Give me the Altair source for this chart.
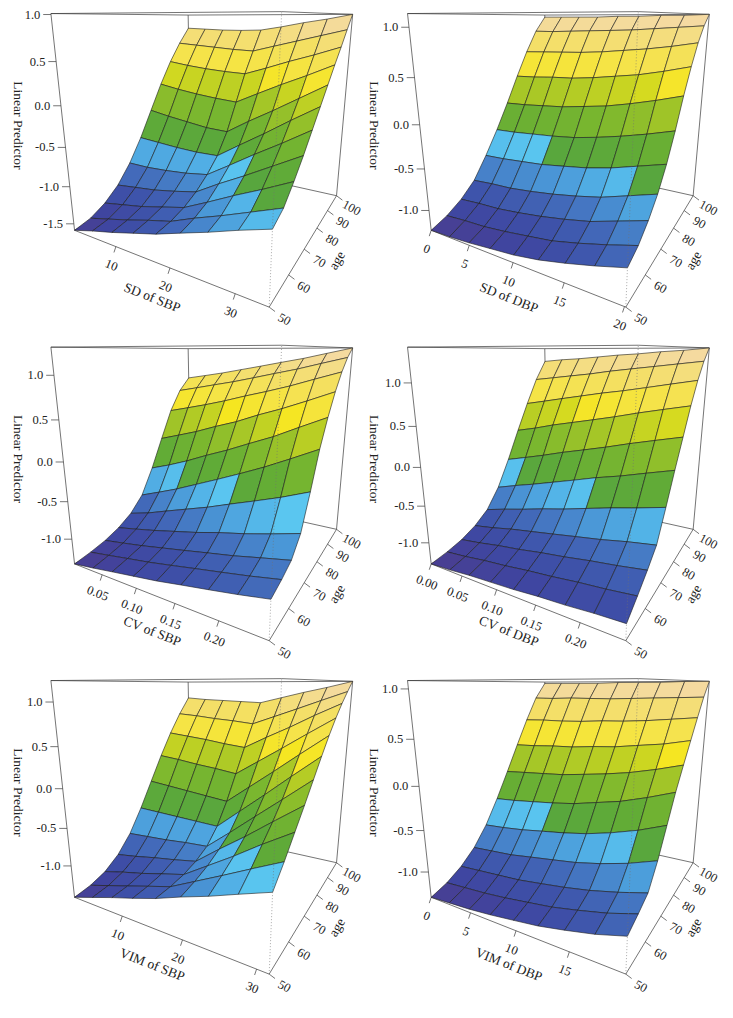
import math
import altair as alt
import pandas as pd

# ------------------------------------------------------------------ data
AGE = [50, 55, 60, 65, 70, 75, 80, 85, 90, 95, 100]
AGE_TICKS = [50, 60, 70, 80, 90, 100]
Z_TICKS_A = [-1.5, -1.0, -0.5, 0.0, 0.5, 1.0]
Z_TICKS_B = [-1.0, -0.5, 0.0, 0.5, 1.0]

sd_sbp_x = [1.0, 5.2, 9.4, 13.6, 17.8, 21.9, 26.1, 30.3, 34.5]
sd_sbp_z = [
    [-1.59, -1.50, -1.42, -1.33, -1.24, -1.13, -1.02, -0.90, -0.79],
    [-1.55, -1.47, -1.39, -1.30, -1.22, -1.09, -0.97, -0.84, -0.71],
    [-1.45, -1.39, -1.33, -1.25, -1.17, -1.02, -0.86, -0.71, -0.55],
    [-1.29, -1.25, -1.21, -1.15, -1.08, -0.90, -0.73, -0.55, -0.37],
    [-1.05, -1.05, -1.03, -1.00, -0.95, -0.76, -0.56, -0.37, -0.17],
    [-0.74, -0.76, -0.78, -0.79, -0.78, -0.58, -0.38, -0.17, 0.03],
    [-0.38, -0.43, -0.47, -0.51, -0.52, -0.33, -0.15, 0.04, 0.23],
    [-0.02, -0.07, -0.11, -0.14, -0.16, -0.01, 0.14, 0.28, 0.43],
    [0.30, 0.26, 0.23, 0.21, 0.20, 0.30, 0.41, 0.51, 0.62],
    [0.57, 0.55, 0.53, 0.51, 0.50, 0.58, 0.66, 0.74, 0.82],
    [0.80, 0.79, 0.78, 0.78, 0.79, 0.84, 0.90, 0.95, 1.01],
]

sd_dbp_x = [0.0, 2.5, 5.0, 7.5, 10.1, 12.6, 15.1, 17.6, 20.1]
sd_dbp_z = [
    [-1.25, -1.24, -1.22, -1.19, -1.16, -1.11, -1.04, -0.96, -0.87],
    [-1.18, -1.16, -1.15, -1.12, -1.08, -1.04, -0.97, -0.89, -0.80],
    [-1.07, -1.05, -1.04, -1.01, -0.97, -0.92, -0.86, -0.77, -0.68],
    [-0.91, -0.89, -0.88, -0.85, -0.81, -0.76, -0.70, -0.61, -0.52],
    [-0.65, -0.64, -0.62, -0.60, -0.56, -0.52, -0.46, -0.38, -0.30],
    [-0.36, -0.35, -0.33, -0.31, -0.28, -0.23, -0.17, -0.10, -0.02],
    [-0.04, -0.03, -0.01, 0.01, 0.05, 0.09, 0.15, 0.22, 0.30],
    [0.30, 0.31, 0.33, 0.34, 0.37, 0.41, 0.45, 0.51, 0.58],
    [0.62, 0.63, 0.64, 0.65, 0.67, 0.70, 0.73, 0.77, 0.82],
    [0.90, 0.90, 0.91, 0.92, 0.93, 0.94, 0.96, 0.98, 1.00],
    [1.10, 1.10, 1.10, 1.10, 1.11, 1.11, 1.12, 1.12, 1.13],
]

cv_sbp_x = [0.005, 0.036, 0.066, 0.097, 0.128, 0.158, 0.189, 0.219, 0.25]
cv_sbp_z = [
    [-1.345, -1.30, -1.25, -1.20, -1.15, -1.09, -1.03, -0.97, -0.90],
    [-1.31, -1.26, -1.21, -1.16, -1.10, -1.04, -0.98, -0.92, -0.85],
    [-1.26, -1.21, -1.16, -1.10, -1.04, -0.98, -0.92, -0.85, -0.78],
    [-1.18, -1.12, -1.06, -0.99, -0.92, -0.84, -0.77, -0.69, -0.60],
    [-1.06, -0.98, -0.88, -0.78, -0.68, -0.57, -0.46, -0.35, -0.22],
    [-0.86, -0.75, -0.64, -0.51, -0.38, -0.25, -0.11, 0.04, 0.20],
    [-0.50, -0.40, -0.29, -0.16, -0.04, 0.09, 0.22, 0.37, 0.52],
    [-0.08, 0.01, 0.10, 0.21, 0.31, 0.43, 0.54, 0.66, 0.79],
    [0.33, 0.40, 0.47, 0.55, 0.64, 0.72, 0.81, 0.91, 1.01],
    [0.63, 0.69, 0.75, 0.81, 0.88, 0.95, 1.02, 1.10, 1.18],
    [0.82, 0.87, 0.92, 0.98, 1.04, 1.10, 1.16, 1.23, 1.30],
]

cv_dbp_x = [0.0, 0.031, 0.061, 0.092, 0.123, 0.153, 0.184, 0.214, 0.245]
cv_dbp_z = [
    [-1.30, -1.28, -1.25, -1.23, -1.21, -1.18, -1.16, -1.13, -1.11],
    [-1.26, -1.23, -1.19, -1.16, -1.12, -1.09, -1.05, -1.02, -0.98],
    [-1.20, -1.16, -1.11, -1.07, -1.02, -0.98, -0.93, -0.89, -0.84],
    [-1.10, -1.05, -0.99, -0.94, -0.89, -0.84, -0.79, -0.73, -0.68],
    [-0.95, -0.87, -0.80, -0.72, -0.65, -0.57, -0.49, -0.42, -0.34],
    [-0.68, -0.59, -0.51, -0.42, -0.33, -0.24, -0.16, -0.07, 0.02],
    [-0.30, -0.22, -0.14, -0.05, 0.03, 0.11, 0.20, 0.28, 0.36],
    [0.12, 0.19, 0.27, 0.34, 0.41, 0.48, 0.56, 0.63, 0.70],
    [0.52, 0.58, 0.64, 0.70, 0.76, 0.81, 0.87, 0.93, 0.99],
    [0.89, 0.93, 0.97, 1.01, 1.06, 1.10, 1.14, 1.18, 1.22],
    [1.18, 1.21, 1.23, 1.26, 1.29, 1.31, 1.34, 1.36, 1.39],
]

vim_sbp_x = [0.5, 4.4, 8.3, 12.1, 16.0, 19.9, 23.8, 27.6, 31.5]
vim_sbp_z = [
    [-1.44, -1.34, -1.24, -1.15, -1.05, -0.93, -0.82, -0.70, -0.58],
    [-1.40, -1.31, -1.22, -1.13, -1.04, -0.88, -0.72, -0.56, -0.40],
    [-1.32, -1.24, -1.17, -1.09, -1.01, -0.81, -0.61, -0.40, -0.20],
    [-1.17, -1.12, -1.06, -1.01, -0.95, -0.71, -0.48, -0.24, 0.00],
    [-0.94, -0.92, -0.90, -0.87, -0.85, -0.59, -0.32, -0.06, 0.21],
    [-0.62, -0.63, -0.64, -0.65, -0.66, -0.39, -0.12, 0.15, 0.42],
    [-0.26, -0.29, -0.32, -0.35, -0.38, -0.13, 0.12, 0.37, 0.62],
    [0.10, 0.07, 0.03, 0.00, -0.04, 0.17, 0.38, 0.59, 0.80],
    [0.43, 0.40, 0.37, 0.33, 0.30, 0.47, 0.63, 0.80, 0.96],
    [0.72, 0.70, 0.67, 0.65, 0.62, 0.74, 0.86, 0.98, 1.10],
    [0.97, 0.95, 0.94, 0.93, 0.92, 1.00, 1.08, 1.15, 1.23],
]

vim_dbp_x = [0.0, 2.4, 4.9, 7.3, 9.8, 12.2, 14.6, 17.1, 19.5]
vim_dbp_z = [
    [-1.32, -1.30, -1.28, -1.25, -1.21, -1.17, -1.11, -1.04, -0.95],
    [-1.25, -1.23, -1.21, -1.18, -1.14, -1.10, -1.04, -0.97, -0.88],
    [-1.14, -1.12, -1.10, -1.08, -1.04, -1.00, -0.95, -0.88, -0.80],
    [-0.98, -0.96, -0.94, -0.90, -0.86, -0.82, -0.76, -0.68, -0.58],
    [-0.75, -0.73, -0.70, -0.66, -0.62, -0.57, -0.50, -0.41, -0.30],
    [-0.45, -0.43, -0.40, -0.37, -0.33, -0.27, -0.21, -0.12, -0.02],
    [-0.12, -0.10, -0.08, -0.06, -0.02, 0.02, 0.07, 0.14, 0.22],
    [0.22, 0.23, 0.25, 0.26, 0.29, 0.31, 0.35, 0.39, 0.45],
    [0.55, 0.56, 0.56, 0.57, 0.59, 0.60, 0.62, 0.65, 0.68],
    [0.85, 0.85, 0.86, 0.86, 0.86, 0.87, 0.88, 0.89, 0.90],
    [1.06, 1.06, 1.06, 1.06, 1.07, 1.07, 1.07, 1.08, 1.08],
]

PANELS = [
    dict(name="SD of SBP", x=sd_sbp_x, z=sd_sbp_z, xt=[10, 20, 30], fmt="{:.0f}", zt=Z_TICKS_A),
    dict(name="SD of DBP", x=sd_dbp_x, z=sd_dbp_z, xt=[0, 5, 10, 15, 20], fmt="{:.0f}", zt=Z_TICKS_B),
    dict(name="CV of SBP", x=cv_sbp_x, z=cv_sbp_z, xt=[0.05, 0.10, 0.15, 0.20], fmt="{:.2f}", zt=Z_TICKS_B),
    dict(name="CV of DBP", x=cv_dbp_x, z=cv_dbp_z, xt=[0.00, 0.05, 0.10, 0.15, 0.20], fmt="{:.2f}", zt=Z_TICKS_B),
    dict(name="VIM of SBP", x=vim_sbp_x, z=vim_sbp_z, xt=[10, 20, 30], fmt="{:.0f}", zt=Z_TICKS_B),
    dict(name="VIM of DBP", x=vim_dbp_x, z=vim_dbp_z, xt=[0, 5, 10, 15], fmt="{:.0f}", zt=Z_TICKS_B),
]

# ------------------------------------------------------------------ view (persp: theta=30, phi=15, r=sqrt(3), d=1)
THETA, PHI = 30.0, 15.0
CT, ST = math.cos(math.radians(THETA)), math.sin(math.radians(THETA))
CP, SP = math.cos(math.radians(PHI)), math.sin(math.radians(PHI))
EYE = 2.0 + math.sqrt(3.0)
SCALE = 389.0
COL_X0 = [214.8, 580.2]
ROW_Y0 = [117.4, 459.2, 800.8]
K = 0.976

# topo-like palette (three ramps, jump between cyan and green)
SEG = [
    [(0.0, (75, 61, 143)), (0.05, (63, 69, 160)), (0.11, (62, 83, 170)), (0.17, (67, 108, 187)),
     (0.23, (74, 150, 214)), (0.28, (82, 178, 231)), (1 / 3, (90, 198, 240))],
    [(1 / 3, (88, 166, 62)), (0.42, (98, 172, 54)), (0.50, (125, 184, 46)), (0.57, (160, 196, 40)),
     (2 / 3, (214, 218, 32))],
    [(2 / 3, (245, 230, 30)), (0.75, (245, 228, 69)), (0.83, (244, 224, 96)), (0.92, (244, 220, 142)),
     (1.0, (245, 217, 174))],
]


def pal(f):
    f = min(max(f, 0.0), 1.0)
    seg = SEG[0] if f < 1 / 3 else (SEG[1] if f < 2 / 3 else SEG[2])
    for (a, ca), (b, cb) in zip(seg[:-1], seg[1:]):
        if a <= f <= b:
            t = (f - a) / (b - a) if b > a else 0
            c = [round(ca[k] + t * (cb[k] - ca[k])) for k in range(3)]
            return "#%02x%02x%02x" % tuple(c)
    return "#%02x%02x%02x" % seg[-1][1]


def project(X, Y, Z):
    q = X * ST - Y * CT
    sx = X * CT + Y * ST
    sy = Z * CP - q * SP
    sz = Z * SP + q * CP
    w = EYE - sz
    return sx / w, sy / w, w


facets, solid, dotted, txt_c, txt_r = [], [], [], [], []

for idx, p in enumerate(PANELS):
    ox, oy = COL_X0[idx % 2], ROW_Y0[idx // 2]
    xs, zz = p["x"], p["z"]
    xmin, xmax = xs[0], xs[-1]
    zmin = min(min(r) for r in zz)
    zmax = max(max(r) for r in zz)
    xc, xsc = (xmin + xmax) / 2, (xmax - xmin) / 2
    zc, zsc = (zmin + zmax) / 2, (zmax - zmin) / 2

    def nx(v):
        return (v - xc) / xsc

    def ny(a):
        return (a - 75.0) / 25.0

    def nz(v):
        return (v - zc) / zsc

    def scr(X, Y, Z):
        px, py, w = project(X, Y, Z)
        return [ox + SCALE * px, oy - SCALE * py], w

    # surface facets, painted back to front
    quads = []
    for j in range(len(AGE) - 1):
        for i in range(len(xs) - 1):
            pts = [(i, j), (i + 1, j), (i + 1, j + 1), (i, j + 1)]
            ring, ws, zs_ = [], [], []
            for (a, b) in pts:
                c, w = scr(nx(xs[a]), ny(AGE[b]), nz(zz[b][a]))
                ring.append(c)
                ws.append(w)
                zs_.append(zz[b][a])
            ring.append(ring[0])
            zm = sum(zs_) / 4
            quads.append((sum(ws) / 4, ring, pal((zm - zmin) / (zmax - zmin))))
    quads.sort(key=lambda t: -t[0])
    for _, ring, col in quads:
        facets.append({"type": "Feature", "geometry": {"type": "Polygon", "coordinates": [ring]},
                       "properties": {"fill": col}})

    # box: back edges solid, the front vertical edge dotted
    C = {"A": (-1, -1, -1), "B": (1, -1, -1), "C": (1, 1, -1), "D": (-1, 1, -1),
         "a": (-1, -1, 1), "b": (1, -1, 1), "c": (1, 1, 1), "d": (-1, 1, 1)}
    for e in ["AB", "BC", "CD", "DA", "ab", "bc", "cd", "da", "Aa", "Cc", "Dd"]:
        solid.append([scr(*C[e[0]])[0], scr(*C[e[1]])[0]])
    dotted.append([scr(*C["B"])[0], scr(*C["b"])[0]])

    # x axis along A-B
    pa, pb = scr(-1, -1, -1)[0], scr(1, -1, -1)[0]
    xang = math.degrees(math.atan2(pb[1] - pa[1], pb[0] - pa[0]))
    for t in p["xt"]:
        b0 = scr(nx(t), -1, -1)[0]
        solid.append([b0, [b0[0] - 2.0, b0[1] + 6.0]])
        txt_c.append(dict(lon=b0[0] - 4.5, lat=b0[1] + 19, text=p["fmt"].format(t), angle=xang, size=12.5))
    m = scr(0, -1, -1)[0]
    txt_c.append(dict(lon=m[0] - 5, lat=m[1] + 36, text=p["name"], angle=xang, size=13.5))

    # age axis along B-C
    for a in AGE_TICKS:
        b0 = scr(1, ny(a), -1)[0]
        solid.append([b0, [b0[0] + 6.0, b0[1] + 4.5]])
        txt_c.append(dict(lon=b0[0] + 15.5, lat=b0[1] + 12.5, text=str(a), angle=28, size=12.5))
    m = scr(1, 0, -1)[0]
    txt_c.append(dict(lon=m[0] + 27, lat=m[1] + 23, text="age", angle=300, size=13.5))

    # z axis along A-a
    for t in p["zt"]:
        b0 = scr(-1, -1, nz(t))[0]
        solid.append([b0, [b0[0] - 8.0, b0[1]]])
        txt_r.append(dict(lon=b0[0] - 11, lat=b0[1], text="{:.1f}".format(t), size=12.5))
    m = scr(-1, -1, 0)[0]
    txt_c.append(dict(lon=m[0] - 47, lat=m[1] - 5, text="Linear Predictor", angle=90, size=13.5))


def lines_to_features(lines):
    return [{"type": "Feature", "geometry": {"type": "LineString", "coordinates": l}, "properties": {}}
            for l in lines]


PROJ = dict(type="identity", scale=K, translate=[-0.5, -3.0])

solid_layer = alt.Chart(alt.Data(values=lines_to_features(solid))).mark_geoshape(
    filled=False, strokeWidth=0.7).encode(stroke=alt.value("#3a3a3a")).project(**PROJ)

facet_layer = alt.Chart(alt.Data(values=facets)).mark_geoshape(
    stroke="#1c1c1c", strokeWidth=0.6, strokeJoin="round").encode(
    fill=alt.Fill("properties.fill:N", scale=None)).project(**PROJ)

dotted_layer = alt.Chart(alt.Data(values=lines_to_features(dotted))).mark_geoshape(
    filled=False, strokeWidth=0.6, strokeDash=[1, 2]).encode(stroke=alt.value("#707070")).project(**PROJ)

FONT = "Liberation Serif"
text_c = alt.Chart(pd.DataFrame(txt_c)).mark_text(
    font=FONT, align="center", baseline="middle", color="#222222").encode(
    longitude="lon:Q", latitude="lat:Q", text="text:N",
    angle=alt.Angle("angle:Q", scale=None), size=alt.Size("size:Q", scale=None)).project(**PROJ)

text_r = alt.Chart(pd.DataFrame(txt_r)).mark_text(
    font=FONT, align="right", baseline="middle", color="#222222").encode(
    longitude="lon:Q", latitude="lat:Q", text="text:N",
    size=alt.Size("size:Q", scale=None)).project(**PROJ)

chart = alt.layer(solid_layer, facet_layer, dotted_layer, text_c, text_r).properties(
    width=717, height=995, autosize=alt.AutoSizeParams(type="none"), padding=0
).configure_view(stroke="transparent")

chart.save("out.html", embed_options={"renderer": "svg", "actions": False})
